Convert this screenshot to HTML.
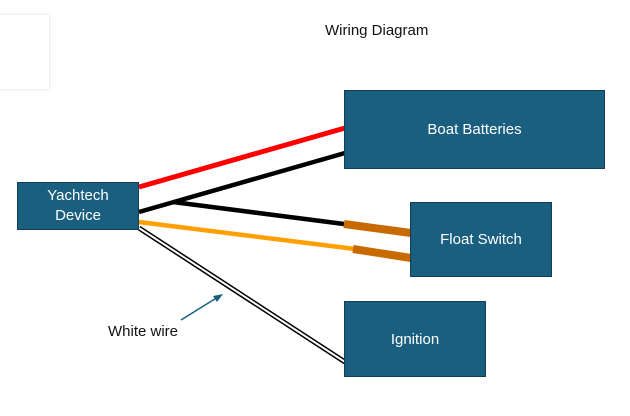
<!DOCTYPE html>
<html><head><style>
body{margin:0;width:630px;height:416px;background:#fff;overflow:hidden;font-family:"Liberation Sans",sans-serif;position:relative}
.b{position:absolute;background:#1a5e80;border:1.5px solid #123f57;color:#fff;display:flex;align-items:center;justify-content:center;text-align:center;font-size:15px;box-sizing:border-box}
.t{position:absolute;font-size:15px;color:#111}
</style></head><body>
<div style="position:absolute;left:-5px;top:14px;width:53px;height:74px;border:1px solid #f0f0f3;border-radius:3px;box-shadow:0 0 6px #f3f3f5"></div>
<svg width="630" height="416" style="position:absolute;left:0;top:0">
<line x1="139" y1="187" x2="345" y2="128" stroke="#f00" stroke-width="5"/>
<line x1="139" y1="212" x2="345" y2="153" stroke="#000" stroke-width="4.5"/>
<line x1="173" y1="202" x2="344" y2="224" stroke="#000" stroke-width="4.5"/>
<line x1="344" y1="224" x2="411" y2="233" stroke="#c96a00" stroke-width="8"/>
<line x1="139" y1="222" x2="355" y2="249" stroke="#ffa000" stroke-width="4.5"/>
<line x1="353" y1="249" x2="411" y2="258" stroke="#c96a00" stroke-width="8"/>
<line x1="139" y1="228" x2="345" y2="362" stroke="#000" stroke-width="5"/>
<line x1="139" y1="228" x2="345" y2="362" stroke="#fff" stroke-width="2"/>
<line x1="181" y1="320" x2="218" y2="297" stroke="#1a5e80" stroke-width="1.5"/>
<polygon points="223,294 213,296 217,302" fill="#1a5e80"/>
</svg>
<div class="t" style="left:325px;top:22px">Wiring Diagram</div>
<div class="b" style="left:17px;top:182px;width:122px;height:48px;line-height:20px">Yachtech<br>Device</div>
<div class="b" style="left:344px;top:90px;width:261px;height:79px">Boat Batteries</div>
<div class="b" style="left:410px;top:202px;width:142px;height:75px">Float Switch</div>
<div class="b" style="left:344px;top:301px;width:142px;height:76px">Ignition</div>
<div class="t" style="left:108px;top:323px">White wire</div>
</body></html>
